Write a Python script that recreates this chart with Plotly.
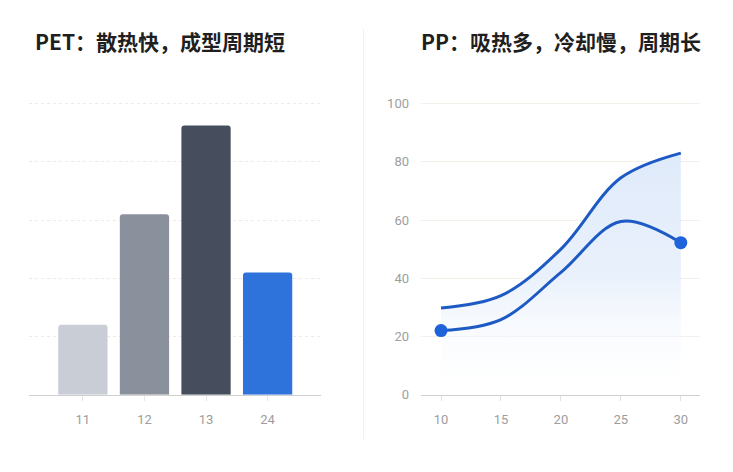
import plotly.graph_objects as go

# ---- data ----
pet_categories = ["11", "12", "13", "24"]
pet_values = [24, 62, 92.5, 42]
pet_colors = ["#c9cdd5", "#8b919c", "#464e5d", "#2e72dc"]

pp_x = [10, 15, 20, 25, 30]
pp_upper = [29.8, 34, 50, 74.5, 83]
pp_lower = [22, 25.8, 42, 59.5, 52.2]

y_ticks = [0, 20, 40, 60, 80, 100]
pp_x_ticks = [10, 15, 20, 25, 30]

title_left = "PET：散热快，成型周期短"
title_right = "PP：吸热多，冷却慢，周期长"

W, H = 733, 472
# measured vertical placement on the page: screen_y = SA + SB * layout_y
SA, SB = 2.9, 0.9787


def px_x(p):
    return p / W


def px_y(p):
    return 1 - ((p - SA) / SB) / H


fig = go.Figure()

# left bars
fig.add_trace(go.Bar(
    x=pet_categories, y=pet_values,
    marker=dict(color=pet_colors, line=dict(width=0)),
    width=0.8,
    xaxis="x", yaxis="y", hoverinfo="skip", showlegend=False,
))

# right: filled upper curve
fig.add_trace(go.Scatter(
    x=pp_x, y=pp_upper, mode="lines",
    line=dict(color="#1d5ac4", width=3, shape="spline", smoothing=1),
    fill="tozeroy",
    fillgradient=dict(
        type="vertical",
        colorscale=[[0, "rgba(255,255,255,0)"], [0.08, "rgba(250,252,255,0.2)"],
                    [0.5, "rgba(229,238,251,0.85)"], [1, "rgba(221,233,250,0.95)"]],
    ),
    xaxis="x2", yaxis="y2", hoverinfo="skip", showlegend=False,
))

# right: lower curve
fig.add_trace(go.Scatter(
    x=pp_x, y=pp_lower, mode="lines",
    line=dict(color="#1d5ac4", width=3, shape="spline", smoothing=1),
    xaxis="x2", yaxis="y2", hoverinfo="skip", showlegend=False,
))

# endpoint markers
fig.add_trace(go.Scatter(
    x=[pp_x[0], pp_x[-1]], y=[pp_lower[0], pp_lower[-1]], mode="markers",
    marker=dict(color="#1f63dc", size=13, line=dict(width=0)),
    xaxis="x2", yaxis="y2", hoverinfo="skip", showlegend=False,
))

tick_font = dict(family="Roboto, Liberation Sans, sans-serif", size=13, color="#9d9d9d")
# y scale: 0 at 395 px, 100 at 104 px; range top slightly above 100
Y_TOP = 102
y0_px, y100_px = 395.5, 104.5
y_top_px = y0_px - Y_TOP * (y0_px - y100_px) / 100
ydom = [px_y(y0_px), px_y(y_top_px)]

fig.update_layout(
    width=W, height=H,
    margin=dict(l=0, r=0, t=0, b=0),
    paper_bgcolor="white", plot_bgcolor="rgba(0,0,0,0)",
    bargap=0.2,
    barcornerradius=3,
    xaxis=dict(
        domain=[px_x(29), px_x(321)],
        type="category", range=[-0.875, 3.867],
        showline=True, linecolor="#cfcfcf", linewidth=1,
        ticks="outside", ticklen=5, tickcolor="#e6e6e6",
        showgrid=False, zeroline=False,
        tickfont=tick_font, ticklabelstandoff=8,
    ),
    yaxis=dict(
        domain=ydom, range=[0, Y_TOP],
        tickvals=y_ticks, showticklabels=False,
        showgrid=True, gridcolor="#efeadf", griddash="dot", gridwidth=1,
        zeroline=False, showline=False,
    ),
    xaxis2=dict(
        domain=[px_x(421), px_x(700)],
        range=[8.33, 31.6],
        tickvals=pp_x_ticks,
        showline=True, linecolor="#cfcfcf", linewidth=1,
        ticks="outside", ticklen=5, tickcolor="#e0e0e0",
        showgrid=False, zeroline=False,
        tickfont=tick_font, ticklabelstandoff=8,
        anchor="y2",
    ),
    yaxis2=dict(
        domain=ydom, range=[0, Y_TOP],
        tickvals=y_ticks,
        showgrid=True, gridcolor="#f3f0ea", gridwidth=1,
        zeroline=False, showline=False,
        tickfont=tick_font, ticklabelstandoff=11,
        anchor="x2",
    ),
    annotations=[
        dict(text=title_left, x=px_x(33), y=px_y(42), xref="paper", yref="paper",
             xanchor="left", yanchor="middle", showarrow=False,
             font=dict(family="Noto Sans CJK SC", size=21, color="#1f1f1f", weight="bold")),
        dict(text=title_right, x=px_x(419), y=px_y(42), xref="paper", yref="paper",
             xanchor="left", yanchor="middle", showarrow=False,
             font=dict(family="Noto Sans CJK SC", size=21, color="#1f1f1f", weight="bold")),
    ],
    shapes=[
        dict(type="line", xref="paper", yref="paper",
             x0=px_x(363.5), x1=px_x(363.5), y0=px_y(30), y1=px_y(440),
             line=dict(color="#f0f0f0", width=1)),
    ],
)

fig.write_html(
    "out.html",
    config={"displayModeBar": False},
    post_script="document.body.style.margin='0';document.body.style.overflow='hidden';",
)
